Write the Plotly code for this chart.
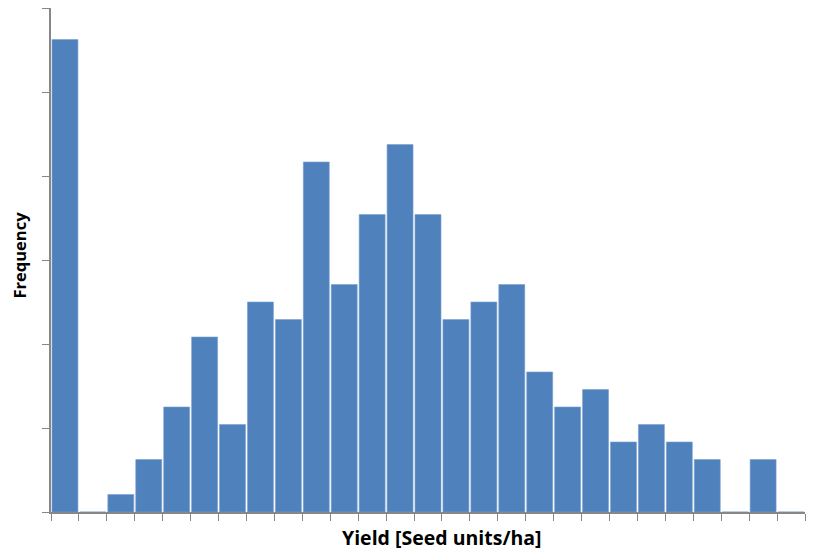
import plotly.graph_objects as go

# Histogram bins (index of yield class) and frequencies
bin_index = list(range(27))
frequency = [27, 0, 1, 3, 6, 10, 5, 12, 11, 20, 13, 17, 21, 17, 11, 12, 13, 8, 6, 7, 4, 5, 4, 3, 0, 3, 0]
x_title = "Yield [Seed units/ha]"
y_title = "Frequency"

bar_color = "#4F81BD"
axis_color = "#878787"

fig = go.Figure()
fig.add_trace(go.Bar(
    x=[i + 0.5 for i in bin_index],
    y=frequency,
    width=0.93,
    marker=dict(color=bar_color, line=dict(color="#7A9FD0", width=0.6)),
    hoverinfo="x+y",
))

fig.update_layout(
    width=816, height=542,
    margin=dict(l=43, r=19, t=0, b=38, autoexpand=False),
    plot_bgcolor="white", paper_bgcolor="white",
    showlegend=False,
    font=dict(family="Open Sans", color="black"),
    annotations=[
        dict(text="<b>" + x_title + "</b>", xref="paper", yref="paper",
             x=0.519, y=0, yshift=-25, xanchor="center", yanchor="middle",
             showarrow=False, font=dict(size=19.5, family="Open Sans", color="black")),
        dict(text="<b>" + y_title + "</b>", xref="paper", yref="paper",
             x=0, xshift=-32, y=0.509, xanchor="center", yanchor="middle", textangle=-90,
             showarrow=False, font=dict(size=16.5, family="Open Sans", color="black")),
    ],
)
fig.update_xaxes(
    range=[0, 27], tickmode="linear", tick0=0, dtick=1, automargin=False,
    showticklabels=False, ticks="outside", ticklen=7, tickcolor=axis_color, tickwidth=1,
    showline=True, linecolor=axis_color, linewidth=1.5, showgrid=False, zeroline=False,
)
fig.update_yaxes(
    range=[0, 28.8], tickmode="linear", tick0=0, dtick=4.8, automargin=False,
    showticklabels=False, ticks="outside", ticklen=7, tickcolor=axis_color, tickwidth=1,
    showline=True, linecolor=axis_color, linewidth=1.5, showgrid=False, zeroline=False,
)

fig.write_html("out.html")
